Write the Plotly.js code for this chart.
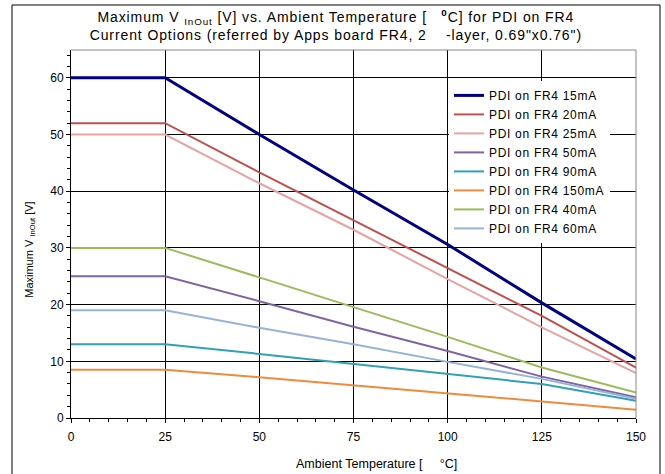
<!DOCTYPE html>
<html>
<head>
<meta charset="utf-8">
<script src="https://cdn.plot.ly/plotly-3.0.1.min.js"></script>
<style>
html,body{margin:0;padding:0;background:#fff;}
#chart{width:665px;height:474px;}
.gtitle{letter-spacing:0.9px;}
.legendtext{letter-spacing:0.7px;}
</style>
</head>
<body>
<div id="chart"></div>
<script>
const temps = [0, 25, 50, 75, 100, 125, 150];
const seriesNames = ["PDI on FR4 15mA","PDI on FR4 20mA","PDI on FR4 25mA","PDI on FR4 50mA","PDI on FR4 90mA","PDI on FR4 150mA","PDI on FR4 40mA","PDI on FR4 60mA"];
const v15mA  = [60, 60, 50.0, 40.2, 30.6, 20.3, 10.4];
const v20mA  = [52, 52, 43.3, 34.9, 26.4, 18.0, 8.9];
const v25mA  = [50, 50, 41.4, 33.2, 24.5, 16.0, 7.9];
const v50mA  = [25, 25, 20.6, 16.1, 11.8, 7.3, 3.65];
const v90mA  = [13, 13, 11.3, 9.5, 7.8, 6.0, 3.05];
const v150mA = [8.5, 8.5, 7.2, 5.8, 4.4, 3.0, 1.47];
const v40mA  = [30, 30, 24.8, 19.6, 14.3, 8.9, 4.5];
const v60mA  = [19, 19, 15.9, 13.0, 9.9, 6.9, 3.4];
const seriesValues = [v15mA, v20mA, v25mA, v50mA, v90mA, v150mA, v40mA, v60mA];
const colors = ["#000080","#C0504D","#E6A3A1","#8064A2","#31A0B8","#F08A3C","#9BBB59","#95B3D7"];
const widths = [3, 2, 2, 2, 2, 2, 2, 2];
const xTicks = [0, 25, 50, 75, 100, 125, 150];
const yTicks = [0, 10, 20, 30, 40, 50, 60];
const titleText = "Maximum V <sub>InOut</sub> [V] vs. Ambient Temperature [\u00a0\u00a0\u00a0<b><sup>0</sup></b>C] for PDI on FR4<br>Current Options (referred by Apps board FR4, 2\u00a0\u00a0\u00a0\u00a0-layer, 0.69\"x0.76\")";
const xTitleText = "Ambient\u00a0Temperature [\u00a0\u00a0\u00a0\u00a0\u00a0°C]";
const yTitleText = "Maximum V <sub>InOut</sub> [V]";

const traces = seriesNames.map((n, i) => ({
  x: temps, y: seriesValues[i], name: n, type: 'scatter', mode: 'lines',
  line: {color: colors[i], width: widths[i]}
}));

const font = "Liberation Sans, Arial, sans-serif";
const layout = {
  width: 665, height: 474,
  margin: {l: 71, r: 29, t: 50, b: 56},
  paper_bgcolor: '#fff', plot_bgcolor: '#fff',
  font: {family: font, size: 12, color: '#000'},
  title: {
    text: titleText,
    font: {family: font, size: 14, color: '#000'},
    x: 0.505, xanchor: 'center', y: 0.953, yanchor: 'top'
  },
  xaxis: {
    range: [0, 150], tickvals: xTicks, ticktext: xTicks.map(String),
    showgrid: true, gridcolor: '#000', gridwidth: 1,
    showline: true, linecolor: '#000', linewidth: 1,
    ticks: 'outside', ticklen: 4, tickcolor: '#000', ticklabelstandoff: 4,
    minor: {dtick: 5, ticks: 'outside', ticklen: 3, tickcolor: '#000', showgrid: false},
    zeroline: false,
    tickfont: {family: font, size: 12, color: '#000'}
  },
  yaxis: {
    range: [0, 64.9], tickvals: yTicks, ticktext: yTicks.map(String),
    showgrid: true, gridcolor: '#000', gridwidth: 1,
    showline: true, linecolor: '#000', linewidth: 1,
    ticks: 'outside', ticklen: 4, tickcolor: '#000',
    minor: {dtick: 2, ticks: 'outside', ticklen: 3, tickcolor: '#000', showgrid: false},
    zeroline: false,
    tickfont: {family: font, size: 12, color: '#000'}
  },
  annotations: [
    {text: xTitleText, xref: 'paper', yref: 'paper', x: 0.54, y: -0.125, xanchor: 'center', yanchor: 'middle', showarrow: false, font: {family: font, size: 12.5, color: '#000'}},
    {text: yTitleText, xref: 'paper', yref: 'paper', x: -0.073, y: 0.4565, xanchor: 'center', yanchor: 'middle', textangle: -90, showarrow: false, font: {family: font, size: 11, color: '#000'}}
  ],
  legend: {
    x: 0.669, y: 0.916, xanchor: 'left', yanchor: 'top',
    bgcolor: '#fff', borderwidth: 0,
    font: {family: font, size: 12, color: '#000'},
    itemwidth: 30, tracegroupgap: 0
  },
  shapes: [
    {type: 'line', xref: 'paper', yref: 'paper', x0: 0, x1: 1, y0: 1, y1: 1, line: {color: '#888', width: 1}},
    {type: 'line', xref: 'paper', yref: 'paper', x0: 1, x1: 1, y0: 0, y1: 1, line: {color: '#888', width: 1}},
    {type: 'rect', xref: 'paper', yref: 'paper', x0: -0.1044, x1: 1.0425, y0: -0.17, y1: 1.1223, line: {color: '#000', width: 1}, layer: 'below'}
  ],
  showlegend: true
};
Plotly.newPlot('chart', traces, layout, {displayModeBar: false, staticPlot: true});
</script>
</body>
</html>
